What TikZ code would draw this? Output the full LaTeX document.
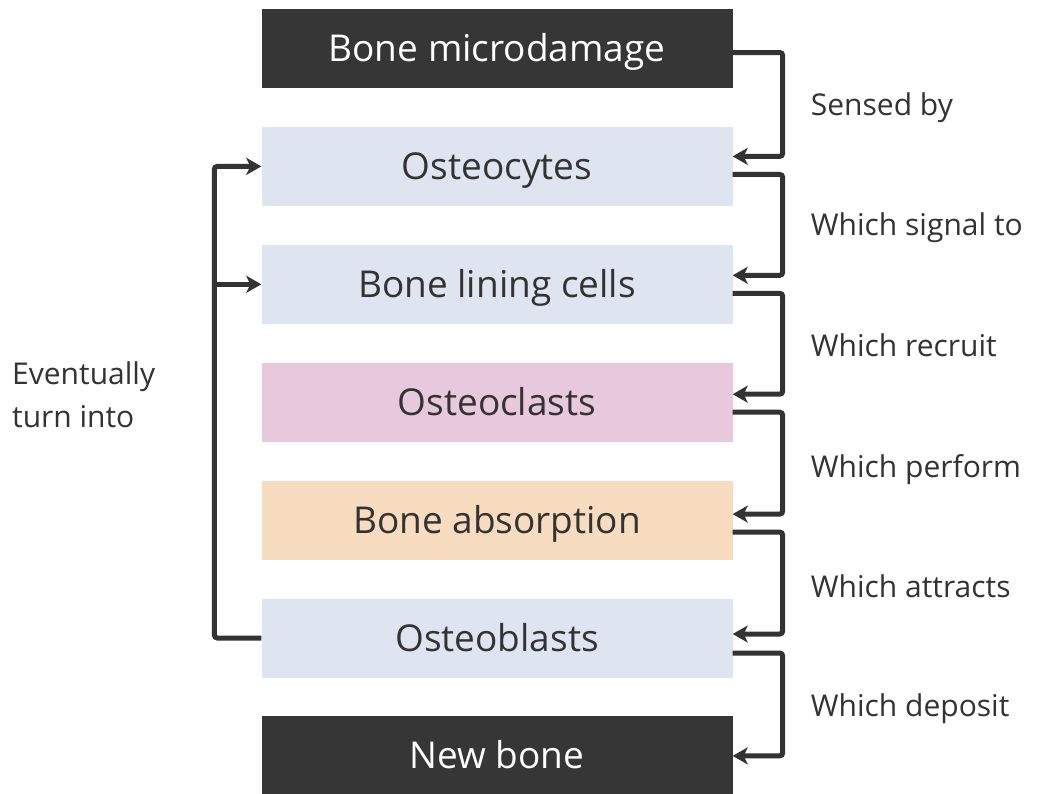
\documentclass[tikz,border=0pt]{standalone}
\usepackage{fontspec}
\setmainfont{Open Sans}
\usetikzlibrary{arrows.meta, positioning, calc}
\definecolor{darkbox}{HTML}{363636}
\definecolor{bluebox}{HTML}{DEE5F0}
\definecolor{pinkbox}{HTML}{E8C8DC}
\definecolor{peachbox}{HTML}{F8DCBF}
\definecolor{ink}{HTML}{333333}
\tikzset{
    box/.style={fill=bluebox, text=ink, minimum width=471pt, minimum height=79pt, inner sep=0pt, text height=26pt, text depth=0pt, font=\fontsize{37}{42}\selectfont},
    darkbox/.style={box, fill=darkbox, text=white},
    conn/.style={-{Stealth[length=15pt, width=17pt, inset=4pt]}, line width=5pt, ink, rounded corners=3pt},
    lbl/.style={anchor=west, text=ink, inner sep=0pt, font=\fontsize{30}{34}\selectfont}
}
\begin{document}
\begin{tikzpicture}[node distance=38.5pt]
        \useasboundingbox (0,0) rectangle (1043pt,-793pt);
        \node [darkbox] (micro) at (497pt,-48.5pt) {Bone microdamage};
        \node [box, below=of micro] (cytes) {Osteocytes};
        \node [box, below=of cytes] (lining) {Bone lining cells};
        \node [box, below=of lining, fill=pinkbox] (clasts) {Osteoclasts};
        \node [box, below=of clasts, fill=peachbox] (absorb) {Bone absorption};
        \node [box, below=of absorb] (blasts) {Osteoblasts};
        \node [darkbox, below=of blasts] (newbone) {New bone};
        % right side chain
        \draw [conn] ([yshift=-4pt]micro.east) -- ++(50pt,0) |- ([yshift=10pt]cytes.east);
        \draw [conn] ([yshift=-8pt]cytes.east) -- ++(50pt,0) |- ([yshift=9pt]lining.east);
        \draw [conn] ([yshift=-9pt]lining.east) -- ++(50pt,0) |- ([yshift=8pt]clasts.east);
        \draw [conn] ([yshift=-10pt]clasts.east) -- ++(50pt,0) |- ([yshift=6pt]absorb.east);
        \draw [conn] ([yshift=-12pt]absorb.east) -- ++(50pt,0) |- ([yshift=4pt]blasts.east);
        \draw [conn] ([yshift=-15pt]blasts.east) -- ++(50pt,0) |- (newbone.east);
        \node [lbl] at ($(micro.east)!0.5!(cytes.east)+(78pt,0)$) {Sensed by};
        \node [lbl] at ($(cytes.east)!0.5!(lining.east)+(78pt,-2pt)$) {Which signal to};
        \node [lbl] at ($(lining.east)!0.5!(clasts.east)+(78pt,-2pt)$) {Which recruit};
        \node [lbl] at ($(clasts.east)!0.5!(absorb.east)+(78pt,-8pt)$) {Which perform};
        \node [lbl] at ($(absorb.east)!0.5!(blasts.east)+(78pt,-7pt)$) {Which attracts};
        \node [lbl] at ($(blasts.east)!0.5!(newbone.east)+(78pt,-12pt)$) {Which deposit};
        % left loop
        \coordinate (turn) at ($(blasts.west)+(-47pt,0)$);
        \draw [conn] (blasts.west) -- (turn) |- (cytes.west);
        \draw [conn] (turn |- lining.west) -- (lining.west);
        \node [lbl, align=left, font=\fontsize{30}{43}\selectfont] (eventually) at (12pt,-395pt) {Eventually\\turn into};
    \end{tikzpicture}
\end{document}
